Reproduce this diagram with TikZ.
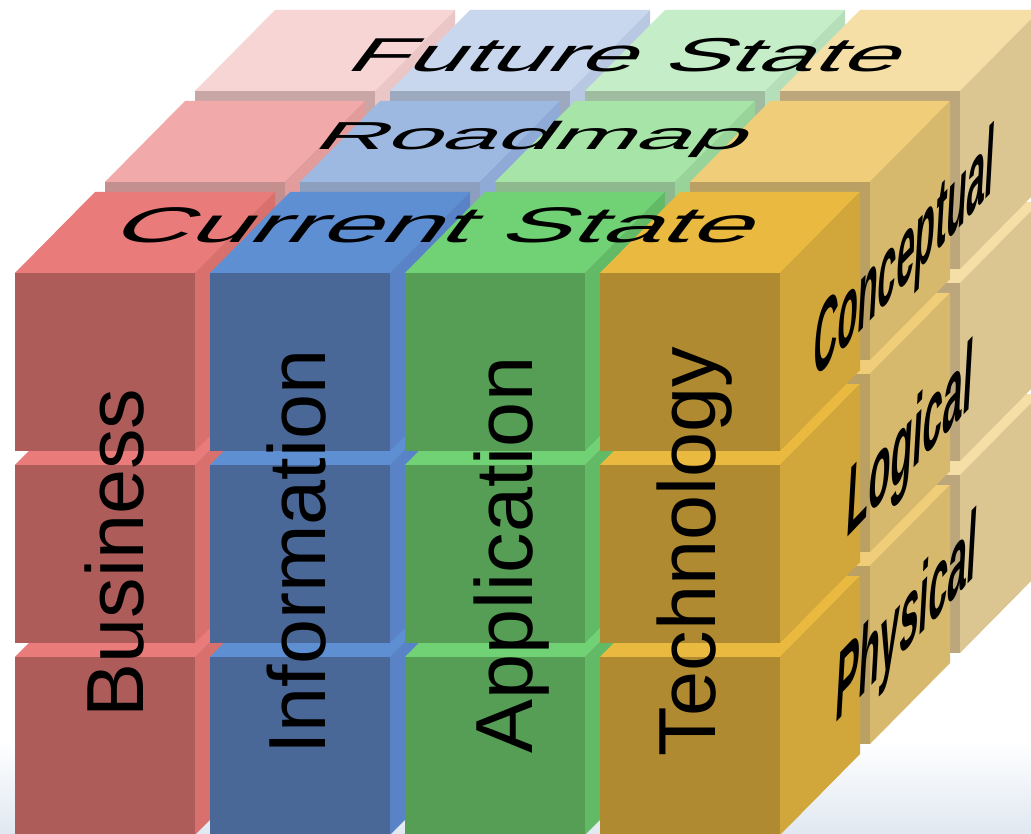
\documentclass[tikz,border=0pt]{standalone}
\usepackage{fontspec}
\setmainfont{Liberation Sans}
% front faces F<layer><column>
\definecolor{F00}{HTML}{AD5C5A}\definecolor{F01}{HTML}{4A6897}\definecolor{F02}{HTML}{569D55}\definecolor{F03}{HTML}{B08A30}
\definecolor{F10}{HTML}{C48F8F}\definecolor{F11}{HTML}{8C9FBF}\definecolor{F12}{HTML}{8EB98F}\definecolor{F13}{HTML}{BBA064}
\definecolor{F20}{HTML}{C9A6A6}\definecolor{F21}{HTML}{9CA9BF}\definecolor{F22}{HTML}{9FBBA0}\definecolor{F23}{HTML}{BCA67C}
% top faces
\definecolor{T00}{HTML}{E97B7A}\definecolor{T01}{HTML}{5F8FD3}\definecolor{T02}{HTML}{70D274}\definecolor{T03}{HTML}{E9B940}
\definecolor{T10}{HTML}{F2A9AA}\definecolor{T11}{HTML}{9DB9E2}\definecolor{T12}{HTML}{A6E4A7}\definecolor{T13}{HTML}{F0CD78}
\definecolor{T20}{HTML}{F7D5D5}\definecolor{T21}{HTML}{C9D7EE}\definecolor{T22}{HTML}{C5EDC8}\definecolor{T23}{HTML}{F6DFA7}
% side faces
\definecolor{S00}{HTML}{D8706E}\definecolor{S01}{HTML}{5983C6}\definecolor{S02}{HTML}{63BA66}\definecolor{S03}{HTML}{D1A63B}
\definecolor{S10}{HTML}{E39C9C}\definecolor{S11}{HTML}{8FAAD6}\definecolor{S12}{HTML}{98D49A}\definecolor{S13}{HTML}{D6B96C}
\definecolor{S20}{HTML}{EBC6C6}\definecolor{S21}{HTML}{B9C8E2}\definecolor{S22}{HTML}{B5DFB8}\definecolor{S23}{HTML}{DBC692}
\definecolor{bgblue}{HTML}{E0E8F1}
% #1 layer (0 front), #2 row (0 top), #3 column (0 left)
\newcommand\drawcube[3]{%
  \pgfmathsetmacro\cubx{15+195*#3+90*#1}%
  \pgfmathsetmacro\cuby{273+192*#2-91*#1}%
  \fill[T#1#3] (\cubx,\cuby) -- ++(80,-81) -- ++(180,0) -- ++(-80,81) -- cycle;
  \fill[S#1#3] (\cubx+180,\cuby) -- ++(80,-81) -- ++(0,178) -- ++(-80,81) -- cycle;
  \fill[F#1#3] (\cubx,\cuby) rectangle ++(180,178);
}
\tikzset{
  frontlabel/.style={font=\fontsize{81}{90}\selectfont, rotate=90, anchor=base, inner sep=0pt, text=black},
  toplabel/.style={font=\fontsize{50}{60}\selectfont, anchor=base west, inner sep=0pt, text=black, xslant=0.75},
  sidelabel/.style={font=\fontsize{95}{100}\selectfont\bfseries, anchor=base west, inner sep=0pt, text=black, yslant=1.05, xslant=0.06}
}
\begin{document}
\begin{tikzpicture}[x=1pt,y=-1pt]
\useasboundingbox (0,0) rectangle (1031,834);
\clip (0,0) rectangle (1031,834);
\fill[white] (0,0) rectangle (1031,834);
\shade[top color=white, bottom color=bgblue] (0,740) rectangle (1031,834);
\foreach \l in {2,1,0}{\foreach \r in {2,1,0}{\foreach \c in {0,1,2,3}{%
  \edef\tmp{\noexpand\drawcube{\l}{\r}{\c}}\tmp}}}
% front labels
\node[frontlabel] (business) at (143,553) {Business};
\node[frontlabel] (information) at (325,552) {Information};
\node[frontlabel] (application) at (532,555) {Application};
\node[frontlabel] (technology) at (715,552) {Technology};
% top labels
\node[toplabel, xscale=2.0, yscale=0.95] (future) at (343,72) {Future State};
\node[toplabel, xscale=1.99, yscale=0.78] (roadmap) at (311,150) {Roadmap};
\node[toplabel, xscale=2.15, yscale=1.0] (current) at (108,243) {Current State};
% side labels
\node[sidelabel, xscale=0.35] (conceptual) at (812,382) {Conceptual};
\node[sidelabel, xscale=0.38] (logical) at (845,540) {Logical};
\node[sidelabel, xscale=0.367] (physical) at (834,725) {Physical};
\end{tikzpicture}
\end{document}
